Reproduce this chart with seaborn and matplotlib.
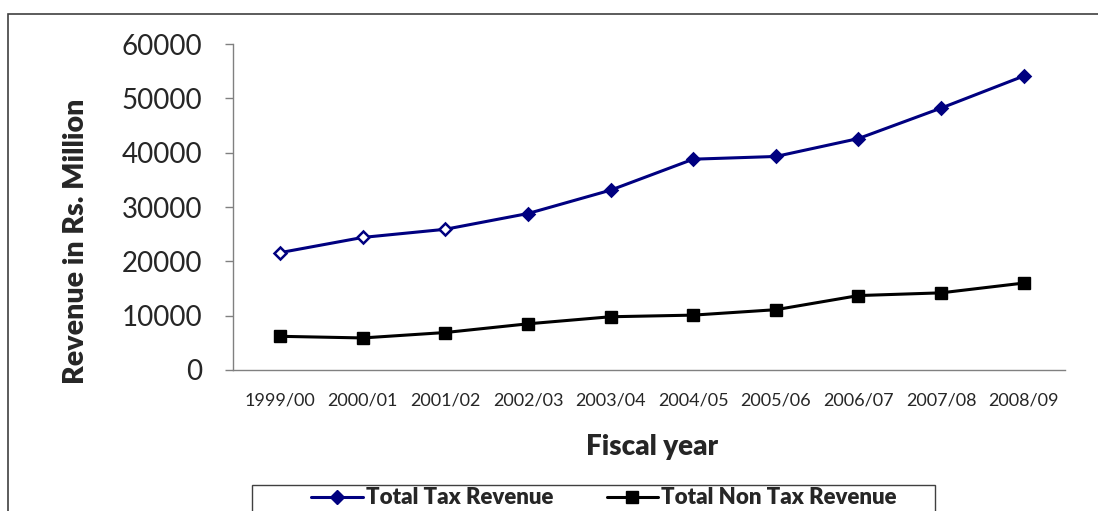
import matplotlib
matplotlib.use("Agg")
import matplotlib.pyplot as plt
import seaborn as sns
import pandas as pd
from matplotlib.patches import Rectangle
from matplotlib.lines import Line2D

years = ["1999/00", "2000/01", "2001/02", "2002/03", "2003/04",
         "2004/05", "2005/06", "2006/07", "2007/08", "2008/09"]
tax_revenue = [21600, 24400, 25900, 28800, 33100, 38800, 39300, 42600, 48200, 54100]
non_tax_revenue = [6200, 5900, 6900, 8500, 9800, 10100, 11100, 13700, 14200, 16000]
tax_hollow = [True, True, True, False, False, False, False, False, False, False]

sns.set_theme(style="white")
plt.rcParams['font.family'] = ['Lato', 'DejaVu Sans']

df = pd.DataFrame({"year": years, "tax": tax_revenue, "nontax": non_tax_revenue})
df["pos"] = range(len(years))

fig = plt.figure(figsize=(10.98, 5.11), dpi=100)
ax = fig.add_axes([233/1098, 1-370/511, (1065-233)/1098, (370-44)/511])

navy = "#000080"
sns.lineplot(data=df, x="pos", y="tax", ax=ax, color=navy, lw=2.2)
sns.lineplot(data=df, x="pos", y="nontax", ax=ax, color="black", lw=2.2)
for p, v, h in zip(df["pos"], tax_revenue, tax_hollow):
    ax.plot(p, v, marker="D", ms=6.5, mfc="white" if h else navy, mec=navy, mew=1.8, zorder=3)
ax.plot(df["pos"], non_tax_revenue, ls="none", marker="s", ms=9, color="black", zorder=3)

ax.set_xlim(-0.57, len(years) - 0.5)
ax.set_ylim(0, 60000)
ax.set_yticks(range(0, 60001, 10000))
ax.set_yticklabels([str(v) for v in range(0, 60001, 10000)], fontsize=20)
ax.set_xticks(range(len(years)))
ax.set_xticklabels(years, fontsize=13)
ax.set_xticks([i - 0.5 for i in range(1, len(years) + 1)], minor=True)
ax.tick_params(axis="x", which="major", length=0, pad=16)
ax.tick_params(axis="x", which="minor", length=5, width=1, color="#808080", direction="out")
ax.tick_params(axis="y", length=6, width=1, color="#808080", direction="out", left=True, pad=16)
for s in ["top", "right"]:
    ax.spines[s].set_visible(False)
for s in ["left", "bottom"]:
    ax.spines[s].set_color("#808080")
    ax.spines[s].set_linewidth(1)

ax.set_xlabel("")
ax.set_ylabel("")
fig.text(76/1098, 1-241/511, "Revenue in Rs. Million", rotation=90, fontsize=20.5,
         fontweight="heavy", ha="center", va="center")
fig.text(652/1098, 1-447/511, "Fiscal year", fontsize=20, fontweight="heavy",
         ha="center", va="center")

# outer frame
fig.patches.append(Rectangle((8/1098, -0.2), 1.2, 1.2 - 14/511, transform=fig.transFigure,
                             fill=False, ec="#404040", lw=1.2))
# legend frame
fig.patches.append(Rectangle((252/1098, -0.2), (935-252)/1098, 0.2 + 1-485/511,
                             transform=fig.transFigure, fill=False, ec="#404040", lw=1))
handles = [Line2D([], [], color=navy, lw=2.2, marker="D", ms=7, mfc=navy, mec=navy),
           Line2D([], [], color="black", lw=2.2, marker="s", ms=9)]
leg = fig.legend(handles, ["Total Tax Revenue", "Total Non Tax Revenue"], ncol=2,
                 loc="center", bbox_to_anchor=(604/1098, 1-498/511), frameon=False,
                 prop={"weight": "heavy", "size": 16}, handlelength=2.3,
                 columnspacing=2.4, handletextpad=0.15)

fig.savefig("out.png", dpi=100)
